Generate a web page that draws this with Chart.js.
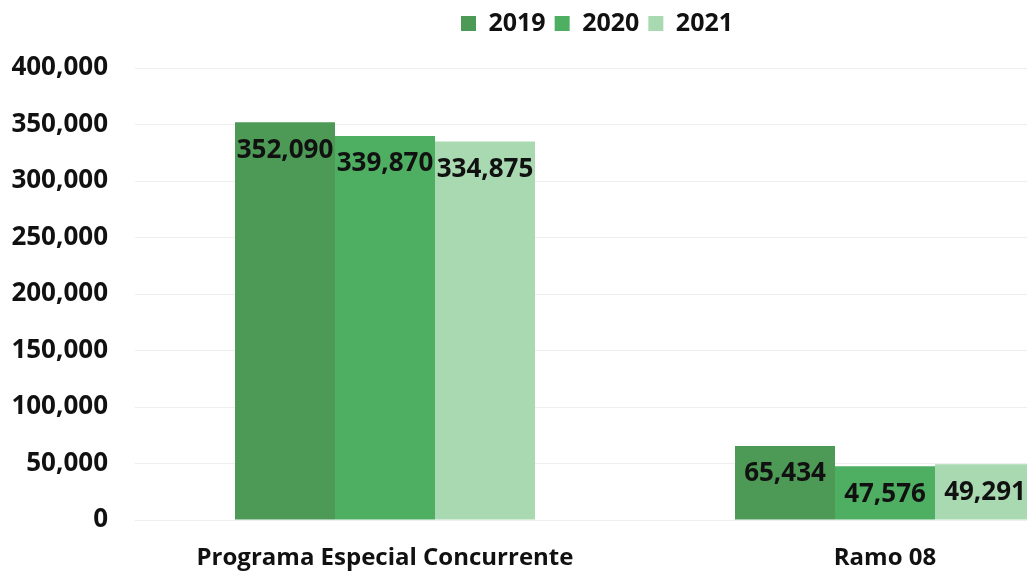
<!DOCTYPE html>
<html>
<head>
<meta charset="utf-8">
<script src="https://cdn.jsdelivr.net/npm/chart.js@4/dist/chart.umd.min.js"></script>
<style>
html,body{margin:0;padding:0;background:#fff;overflow:hidden;}
#wrap{width:1027px;height:571px;overflow:hidden;position:relative;}
canvas{display:block;}
</style>
</head>
<body>
<div id="wrap"><canvas id="c" width="1194" height="571" style="width:1194px;height:571px"></canvas></div>
<script>
const categories = ["Programa Especial Concurrente", "Ramo 08"];
const seriesNames = ["2019", "2020", "2021"];
const values2019 = [352090, 65434];
const values2020 = [339870, 47576];
const values2021 = [334875, 49291];
const yTicks = [0, 50000, 100000, 150000, 200000, 250000, 300000, 350000, 400000];

const colors = ["#4c9a56", "#4eaf62", "#a8d9b0"];
const FONT = "'Open Sans', 'DejaVu Sans', sans-serif";

const valueLabels = {
  id: 'valueLabels',
  afterDatasetsDraw(chart) {
    const ctx = chart.ctx;
    ctx.save();
    ctx.font = "bold 26px " + FONT;
    ctx.fillStyle = "#111";
    ctx.textAlign = "center";
    ctx.textBaseline = "middle";
    chart.data.datasets.forEach((ds, i) => {
      chart.getDatasetMeta(i).data.forEach((bar, j) => {
        ctx.fillText(ds.data[j].toLocaleString('en-US'), bar.x, bar.y + 28);
      });
    });
    ctx.restore();
  }
};

const legendSpace = {
  id: 'legendSpace',
  beforeInit(chart) {
    const orig = chart.legend.fit;
    chart.legend.fit = function () { orig.call(this); this.height = 66; };
  }
};

new Chart(document.getElementById('c'), {
  type: 'bar',
  data: {
    labels: categories,
    datasets: [
      { label: seriesNames[0], data: values2019, backgroundColor: colors[0] },
      { label: seriesNames[1], data: values2020, backgroundColor: colors[1] },
      { label: seriesNames[2], data: values2021, backgroundColor: colors[2] }
    ]
  },
  options: {
    responsive: false,
    animation: false,
    devicePixelRatio: 1,
    layout: { padding: { left: 0, right: 0, top: 2, bottom: 0 } },
    datasets: { bar: { categoryPercentage: 0.6, barPercentage: 1.0 } },
    plugins: {
      legend: {
        position: 'top',
        labels: {
          boxWidth: 15, boxHeight: 15, padding: 9,
          color: '#111',
          font: { family: FONT, size: 25, weight: 'bold' }
        }
      },
      tooltip: { enabled: false }
    },
    scales: {
      x: {
        afterFit(scale) { scale.height = 51; },
        grid: { display: false },
        border: { display: false },
        ticks: { color: '#111', padding: 16, font: { family: FONT, size: 24, weight: 'bold' } }
      },
      y: {
        min: 0, max: 400000,
        afterFit(scale) { scale.width = 135; },
        afterBuildTicks(scale) { scale.ticks = yTicks.map(v => ({ value: v })); },
        grid: { color: '#eeeeee', drawTicks: false },
        border: { display: false },
        ticks: {
          color: '#111', padding: 27,
          font: { family: FONT, size: 26, weight: 'bold' },
          callback: v => v.toLocaleString('en-US')
        }
      },
      yRight: {
        position: 'right',
        min: 0, max: 400000,
        afterFit(scale) { scale.width = 59; },
        grid: { display: false },
        border: { display: false },
        ticks: { display: false }
      }
    }
  },
  plugins: [valueLabels, legendSpace]
});
</script>
</body>
</html>
